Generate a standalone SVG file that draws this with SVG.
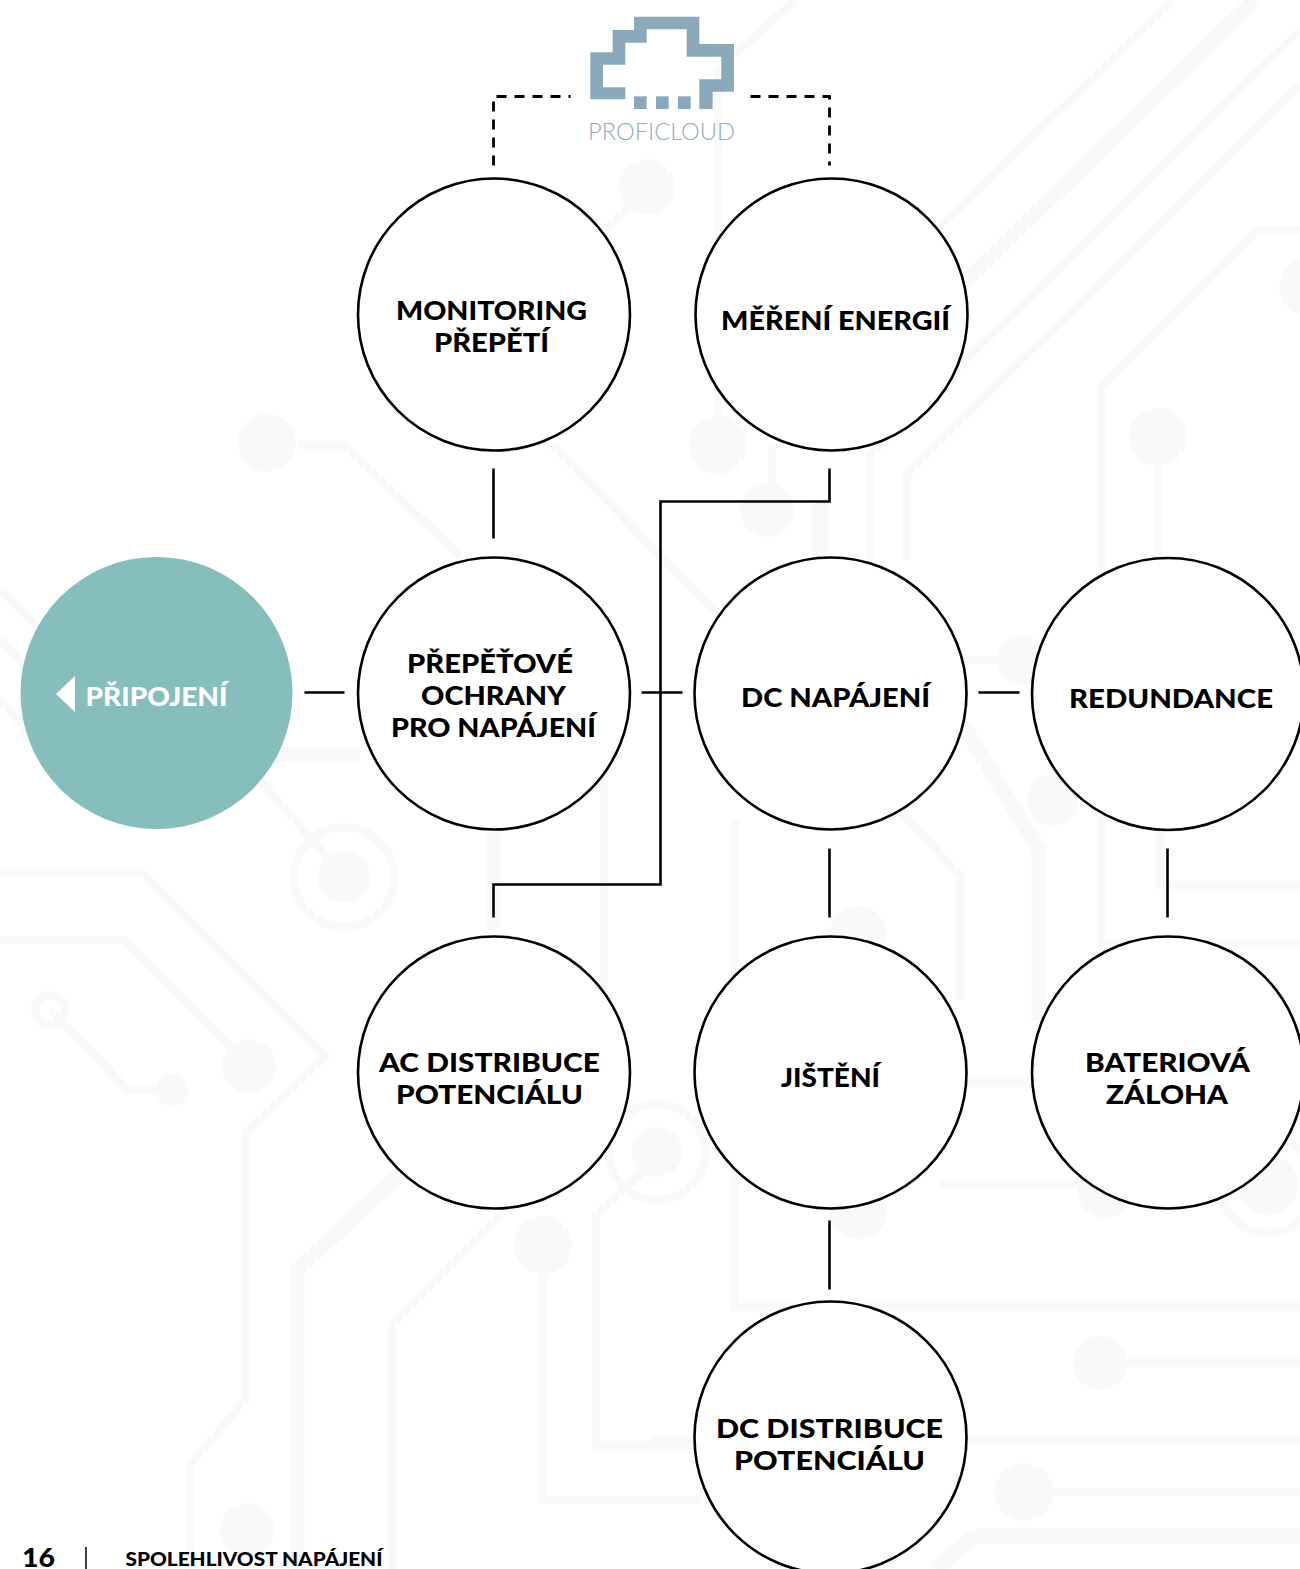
<svg xmlns="http://www.w3.org/2000/svg" width="1300" height="1569" viewBox="0 0 1300 1569">
<style>
.bg{fill:none;stroke:#f9f9f9;stroke-width:8}
.bg2{fill:none;stroke:#f9f9f9;stroke-width:15}
.dot{fill:#f9f9f9}
.n{fill:#fff;stroke:#000;stroke-width:2.6}
.c{fill:none;stroke:#000;stroke-width:2.6}
.d{fill:none;stroke:#000;stroke-width:2.8;stroke-dasharray:10 8}
.t{font-family:Lato,"Liberation Sans",sans-serif;font-weight:900;font-size:27px;fill:#000}
</style>
<rect width="1300" height="1569" fill="#fff"/>
<g id="background">
<path class="bg" d="M718 445V70L795 0"/>
<path class="bg" d="M900 265L1173 0"/>
<path class="bg2" d="M900 345L1255 0"/>
<path class="bg" d="M870 560V455L1300 30"/>
<path class="bg" d="M907 560V474L1300 85"/>
<path class="bg" d="M1300 230H1257L1101 387V600"/>
<path class="bg" d="M1158 437V560"/>
<path class="bg" d="M772 445V510"/>
<path class="bg2" d="M820 500V560"/>
<path class="bg" d="M297 445H344L460 556"/>
<path class="bg" d="M552 445L716 612"/>
<path class="bg" d="M647 187L600 235"/>
<path class="bg" d="M1022 660H960"/>
<path class="bg2" d="M960 720L1039 850V1013H1100"/>
<path class="bg" d="M899 810L960 875V1000"/>
<path class="bg" d="M735 820V1307H1300"/>
<path class="bg" d="M960 1083H1035"/>
<path class="bg" d="M940 1185H1100"/>
<path class="bg" d="M1160 820V885H1300"/>
<path class="bg" d="M1101 815V943H1300"/>
<path class="bg" d="M1100 1363H1300"/>
<path class="bg" d="M1024 1492H1300"/>
<path class="bg" d="M965 1440H1300"/>
<path class="bg2" d="M935 1569L975 1536H1300"/>
<path class="bg" d="M650 1440H700"/>
<path class="bg" d="M650 1500H700"/>
<path class="bg2" d="M270 755H360"/>
<path class="bg" d="M260 780L344 877"/>
<path class="bg2" d="M493 830V930"/>
<path class="bg" d="M604 760V1000"/>
<path class="bg" d="M0 873H143L326 1056L245 1133V1400L190 1465V1569"/>
<path class="bg" d="M0 940H125L250 1066"/>
<path class="bg" d="M50 1010L128 1090H172"/>
<path class="bg2" d="M404 1170L297 1270V1569"/>
<path class="bg" d="M505 1210L392 1325V1569"/>
<path class="bg" d="M543 1245V1500H700"/>
<path class="bg" d="M650 1165L596 1215V1445H700"/>
<path class="bg" d="M0 590L40 630"/>
<path class="bg" d="M0 640L40 680"/>
<path class="bg" d="M0 700L40 745"/>
<circle class="dot" cx="647" cy="187" r="28"/>
<circle class="dot" cx="267" cy="443" r="29"/>
<circle class="dot" cx="718" cy="445" r="29"/>
<circle class="dot" cx="767" cy="510" r="27"/>
<circle class="dot" cx="1158" cy="437" r="29"/>
<circle class="dot" cx="1308" cy="287" r="29"/>
<circle class="dot" cx="1022" cy="660" r="25"/>
<circle class="dot" cx="1053" cy="800" r="26"/>
<circle class="dot" cx="858" cy="935" r="29"/>
<circle class="dot" cx="858" cy="1210" r="29"/>
<circle class="dot" cx="1105" cy="1190" r="28"/>
<circle class="dot" cx="1100" cy="1363" r="27"/>
<circle class="dot" cx="1024" cy="1492" r="29"/>
<circle class="dot" cx="249" cy="1066" r="27"/>
<circle class="dot" cx="172" cy="1090" r="16"/>
<circle class="dot" cx="543" cy="1245" r="29"/>
<circle class="dot" cx="247" cy="1530" r="27"/>
<circle class="dot" cx="344" cy="877" r="26"/>
<circle class="bg" cx="344" cy="877" r="50"/>
<circle class="dot" cx="657" cy="1152" r="25"/>
<circle class="bg" cx="657" cy="1152" r="48"/>
<circle class="dot" cx="1268" cy="1185" r="30"/>
<circle class="bg" cx="1268" cy="1185" r="48"/>
<circle class="bg" cx="50" cy="1010" r="15"/>
</g>
<g id="connectors" transform="translate(.5 .5)">
<path class="d" d="M493 165V96H570"/>
<path class="d" d="M750 96H829V165"/>
<path class="c" d="M493 468V538"/>
<path class="c" d="M304 692H344"/>
<path class="c" d="M641 692H682"/>
<path class="c" d="M978 692H1019"/>
<path class="c" d="M829 468V501H660V884H493V917"/>
<path class="c" d="M829 848V917"/>
<path class="c" d="M1167 848V917"/>
<path class="c" d="M829 1220V1289"/>
</g>
<g id="proficloud">
<g transform="translate(480 0) scale(.3333)" fill="#8aa9bb">
<path d="M462 50H658V132H762V275H698V327H658V238H724V170H620V88H500V128H436V194H369V262H436V298H331V157H398V90H462Z"/>
<rect x="462" y="289" width="38" height="38"/><rect x="528" y="289" width="38" height="38"/><rect x="594" y="289" width="38" height="38"/>
</g>
<text x="588" y="140" textLength="147" lengthAdjust="spacingAndGlyphs" font-family="Lato,'Liberation Sans',sans-serif" font-weight="300" font-size="23" fill="#8fadbe">PROFICLOUD</text>
</g>
<g id="pripojeni">
<circle cx="156.500" cy="693" r="136" fill="#86bdbd"/>
<path d="M75 676V712L56 694Z" fill="#fff"/>
<text class="t" x="85.500" y="706" textLength="142" lengthAdjust="spacingAndGlyphs" style="fill:#fff">PŘIPOJENÍ</text>
</g>
<g id="monitoring">
<circle class="n" cx="494" cy="314.500" r="136"/>
<text class="t" x="396" y="320" textLength="191" lengthAdjust="spacingAndGlyphs">MONITORING</text>
<text class="t" x="434" y="352" textLength="115" lengthAdjust="spacingAndGlyphs">PŘEPĚTÍ</text>
</g>
<g id="mereni">
<circle class="n" cx="831.500" cy="314.500" r="136"/>
<text class="t" x="721" y="330" textLength="229" lengthAdjust="spacingAndGlyphs">MĚŘENÍ ENERGIÍ</text>
</g>
<g id="prepetove">
<circle class="n" cx="494" cy="693.500" r="136"/>
<text class="t" x="407" y="673" textLength="166" lengthAdjust="spacingAndGlyphs">PŘEPĚŤOVÉ</text>
<text class="t" x="421" y="705" textLength="145" lengthAdjust="spacingAndGlyphs">OCHRANY</text>
<text class="t" x="391" y="737" textLength="205" lengthAdjust="spacingAndGlyphs">PRO NAPÁJENÍ</text>
</g>
<g id="dc-napajeni">
<circle class="n" cx="830.500" cy="693.500" r="136"/>
<text class="t" x="741" y="707" textLength="189" lengthAdjust="spacingAndGlyphs">DC NAPÁJENÍ</text>
</g>
<g id="redundance">
<circle class="n" cx="1168" cy="694" r="136"/>
<text class="t" x="1069" y="708" textLength="204" lengthAdjust="spacingAndGlyphs">REDUNDANCE</text>
</g>
<g id="ac-distribuce">
<circle class="n" cx="494" cy="1072.500" r="136"/>
<text class="t" x="379" y="1072" textLength="221" lengthAdjust="spacingAndGlyphs">AC DISTRIBUCE</text>
<text class="t" x="396" y="1104" textLength="187" lengthAdjust="spacingAndGlyphs">POTENCIÁLU</text>
</g>
<g id="jisteni">
<circle class="n" cx="830.500" cy="1072.500" r="136"/>
<text class="t" x="781" y="1087" textLength="99" lengthAdjust="spacingAndGlyphs">JIŠTĚNÍ</text>
</g>
<g id="bateriova">
<circle class="n" cx="1168" cy="1072.500" r="136"/>
<text class="t" x="1085" y="1072" textLength="165" lengthAdjust="spacingAndGlyphs">BATERIOVÁ</text>
<text class="t" x="1106" y="1104" textLength="122" lengthAdjust="spacingAndGlyphs">ZÁLOHA</text>
</g>
<g id="dc-distribuce">
<circle class="n" cx="830.500" cy="1437.500" r="136"/>
<text class="t" x="716" y="1438" textLength="227" lengthAdjust="spacingAndGlyphs">DC DISTRIBUCE</text>
<text class="t" x="734" y="1470" textLength="191" lengthAdjust="spacingAndGlyphs">POTENCIÁLU</text>
</g>
<g id="footer">
<text x="22" y="1567" textLength="33" lengthAdjust="spacingAndGlyphs" font-family="Lato,'Liberation Sans',sans-serif" font-weight="900" font-size="26">16</text>
<path d="M86 1547V1569" stroke="#000" stroke-width="1.500"/>
<text x="125.500" y="1566" textLength="257" lengthAdjust="spacingAndGlyphs" font-family="Lato,'Liberation Sans',sans-serif" font-weight="900" font-size="18">SPOLEHLIVOST NAPÁJENÍ</text>
</g>
</svg>
